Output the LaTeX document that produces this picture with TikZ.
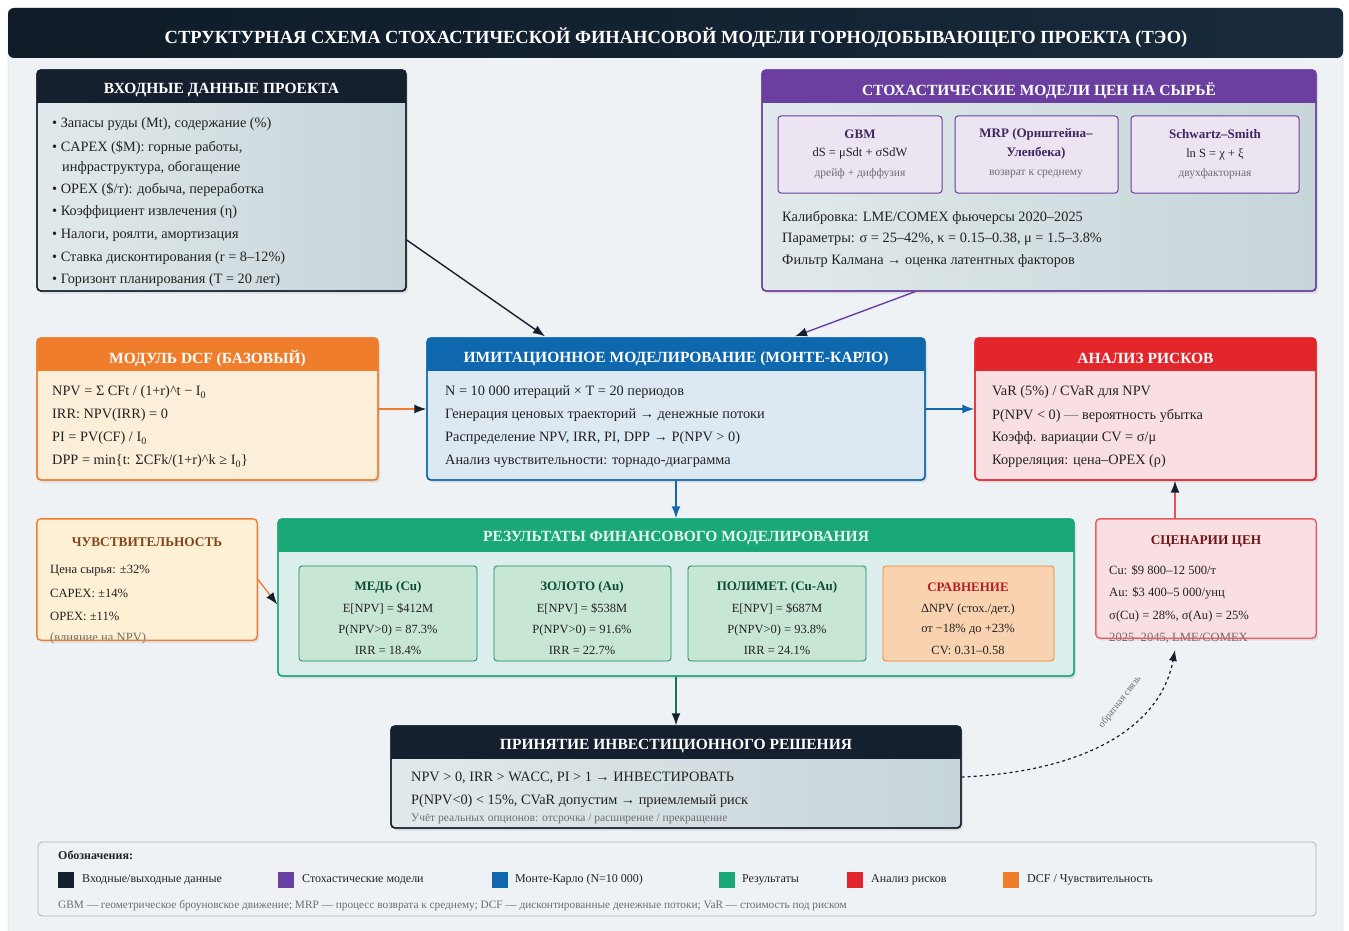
\documentclass[tikz,border=0pt]{standalone}
\usepackage{fontspec}
\setmainfont{Liberation Serif}
\usetikzlibrary{arrows.meta,shadows,fit,calc}
\definecolor{navy}{HTML}{14202E}
\definecolor{purp}{HTML}{6B3FA0}
\definecolor{orng}{HTML}{F07D2B}
\definecolor{blu}{HTML}{0F68AD}
\definecolor{rd}{HTML}{E3262B}
\definecolor{grn}{HTML}{1AA879}
\definecolor{bgc}{HTML}{EEF2F5}
\definecolor{txtc}{HTML}{222222}
\definecolor{gryt}{HTML}{6E6E6E}
\definecolor{bodyL}{HTML}{E1E9EC}
\definecolor{bodyR}{HTML}{C6D5D8}
\definecolor{dcfb}{HTML}{FCEFD9}
\definecolor{sensb}{HTML}{FDF0D5}
\definecolor{mcb}{HTML}{DCE9F3}
\definecolor{riskb}{HTML}{F9DFE1}
\definecolor{resb}{HTML}{DCEEEB}
\definecolor{gsub}{HTML}{C8E6D4}
\definecolor{osub}{HTML}{F9D3B0}
\definecolor{psub}{HTML}{ECE4F0}
\definecolor{titL}{HTML}{0F1B27}
\definecolor{titR}{HTML}{182A3C}
\newcommand{\panel}[8]{%
  \node[fit={(#2,#3) (#4,#5)}, inner sep=0pt, rounded corners=4pt, draw=#6, line width=1.4pt, #7,
        drop shadow={opacity=0.18,shadow xshift=2pt,shadow yshift=-2.5pt}] (#1) {};
  \begin{scope}
    \clip[rounded corners=4pt] (#2,#3) rectangle (#4,#5);
    \fill[#6] (#2,#3) rectangle (#4,#3+33);
  \end{scope}
  \draw[#6, line width=1.4pt, rounded corners=4pt] (#2,#3) rectangle (#4,#5);
  \node[headtxt] (#1-h) at ({(#2+#4)/2},#3+20.5) {#8};
}
\tikzset{
  headtxt/.style={text=white, font=\bfseries\fontsize{15.5}{17}\selectfont, inner sep=0pt},
  bt/.style={anchor=west, inner sep=0pt, yshift=-1.5pt, text=txtc, font=\fontsize{14.3}{16}\selectfont},
  st/.style={inner sep=0pt, yshift=-1pt, text=txtc, font=\fontsize{12.5}{14}\selectfont},
  sbt/.style={inner sep=0pt, yshift=-1pt, font=\bfseries\fontsize{13}{15}\selectfont},
  gt/.style={inner sep=0pt, yshift=-1pt, text=gryt, font=\fontsize{11.5}{13}\selectfont},
  smt/.style={anchor=west, inner sep=0pt, yshift=-1.5pt, text=txtc, font=\fontsize{12.6}{14}\selectfont},
  subp/.style={inner sep=0pt, rounded corners=3pt, draw=purp, line width=1pt, fill=psub},
  subg/.style={inner sep=0pt, rounded corners=3pt, draw=grn!80!black, line width=0.8pt, fill=gsub},
  grayshade/.style={left color=bodyL, right color=bodyR},
  legsq/.style={minimum size=16pt, inner sep=0pt},
  legt/.style={anchor=west, inner sep=0pt, text=txtc, font=\fontsize{12}{14}\selectfont},
}
\begin{document}
\begin{tikzpicture}[x=1pt,y=-1pt]
\useasboundingbox (0,0) rectangle (1349,931);
\fill[white] (0,0) rectangle (1349,931);
\draw[gray!40, fill=bgc, rounded corners=6pt] (8,8) rectangle (1343,950);
% title
\shade[left color=titL, right color=titR, rounded corners=6pt] (8,8) rectangle (1343,58);
\node[text=white, font=\bfseries\fontsize{18.5}{20}\selectfont, inner sep=0pt] (title) at (676,37.5)
  {СТРУКТУРНАЯ СХЕМА СТОХАСТИЧЕСКОЙ ФИНАНСОВОЙ МОДЕЛИ ГОРНОДОБЫВАЮЩЕГО ПРОЕКТА (ТЭО)};

% input data
\panel{inp}{37}{70}{406}{291}{navy}{grayshade}{ВХОДНЫЕ ДАННЫЕ ПРОЕКТА}
\node[bt] (i1) at (52,123) {• Запасы руды (Mt), содержание (\%)};
\node[bt] (i2) at (52,146) {• CAPEX (\$M): горные работы,};
\node[bt] (i3) at (62,166) {инфраструктура, обогащение};
\node[bt] (i4) at (52,188) {• OPEX (\$/т): добыча, переработка};
\node[bt] (i5) at (52,211) {• Коэффициент извлечения (η)};
\node[bt] (i6) at (52,234) {• Налоги, роялти, амортизация};
\node[bt] (i7) at (52,257) {• Ставка дисконтирования (r = 8–12\%)};
\node[bt] (i8) at (52,279) {• Горизонт планирования (T = 20 лет)};

% stochastic models
\panel{sto}{762}{70}{1316}{291}{purp}{grayshade}{СТОХАСТИЧЕСКИЕ МОДЕЛИ ЦЕН НА СЫРЬЁ}
\node[subp, fit={(778,116) (942,193)}] (s1) {};
\node[subp, fit={(955,116) (1118,193)}] (s2) {};
\node[subp, fit={(1131,116) (1299,193)}] (s3) {};
\node[sbt, text=purp!60!black] (s1a) at (860,133) {GBM};
\node[st] (s1b) at (860,153) {dS = μSdt + σSdW};
\node[gt] (s1c) at (860,173) {дрейф + диффузия};
\node[sbt, text=purp!60!black] (s2a) at (1036,133) {MRP (Орнштейна–};
\node[sbt, text=purp!60!black] (s2b) at (1036,152) {Уленбека)};
\node[gt] (s2c) at (1036,173) {возврат к среднему};
\node[sbt, text=purp!60!black] (s3a) at (1215,133) {Schwartz–Smith};
\node[st] (s3b) at (1215,153) {ln S = χ + ξ};
\node[gt] (s3c) at (1215,173) {двухфакторная};
\node[bt] (s4) at (782,216) {Калибровка: LME/COMEX фьючерсы 2020–2025};
\node[bt] (s5) at (782,238) {Параметры: σ = 25–42\%, κ = 0.15–0.38, μ = 1.5–3.8\%};
\node[bt] (s6) at (782,260) {Фильтр Калмана → оценка латентных факторов};

% DCF
\panel{dcf}{37}{338}{378}{480}{orng}{fill=dcfb}{МОДУЛЬ DCF (БАЗОВЫЙ)}
\node[bt] (d1) at (52,391) {NPV = Σ CFt / (1+r)\textasciicircum t − I\textsubscript{0}};
\node[bt] (d2) at (52,414) {IRR: NPV(IRR) = 0};
\node[bt] (d3) at (52,437) {PI = PV(CF) / I\textsubscript{0}};
\node[bt] (d4) at (52,460) {DPP = min\{t: ΣCFk/(1+r)\textasciicircum k ≥ I\textsubscript{0}\}};

% Monte Carlo
\panel{mc}{427}{338}{925}{480}{blu}{fill=mcb}{ИМИТАЦИОННОЕ МОДЕЛИРОВАНИЕ (МОНТЕ-КАРЛО)}
\node[bt] (m1) at (445,391) {N = 10 000 итераций × T = 20 периодов};
\node[bt] (m2) at (445,414) {Генерация ценовых траекторий → денежные потоки};
\node[bt] (m3) at (445,437) {Распределение NPV, IRR, PI, DPP → P(NPV > 0)};
\node[bt] (m4) at (445,460) {Анализ чувствительности: торнадо-диаграмма};

% Risk
\panel{risk}{975}{338}{1316}{480}{rd}{fill=riskb}{АНАЛИЗ РИСКОВ}
\node[bt] (r1) at (992,391) {VaR (5\%) / CVaR для NPV};
\node[bt] (r2) at (992,414) {P(NPV < 0) \textcolor{gryt}{—} вероятность убытка};
\node[bt] (r3) at (992,437) {Коэфф. вариации CV = σ/μ};
\node[bt] (r4) at (992,460) {Корреляция: цена–OPEX (ρ)};

% Results
\panel{res}{278}{519}{1074}{676}{grn}{fill=resb}{}
\node[headtxt, text=white!90!grn] (res-t) at (676,538.5) {РЕЗУЛЬТАТЫ ФИНАНСОВОГО МОДЕЛИРОВАНИЯ};
\node[subg, fit={(299,566) (477,661)}] (g1) {};
\node[subg, fit={(494,566) (671,661)}] (g2) {};
\node[subg, fit={(688,566) (866,661)}] (g3) {};
\node[inner sep=0pt, rounded corners=3pt, draw=orng, line width=0.8pt, fill=osub, fit={(883,566) (1054,661)}] (g4) {};
\node[sbt, text=grn!45!black] (g1a) at (388,586) {МЕДЬ (Cu)};
\node[st] (g1b) at (388,608) {E[NPV] = \$412M};
\node[st] (g1c) at (388,629) {P(NPV>0) = 87.3\%};
\node[st] (g1d) at (388,649) {IRR = 18.4\%};
\node[sbt, text=grn!45!black] (g2a) at (582,586) {ЗОЛОТО (Au)};
\node[st] (g2b) at (582,608) {E[NPV] = \$538M};
\node[st] (g2c) at (582,629) {P(NPV>0) = 91.6\%};
\node[st] (g2d) at (582,649) {IRR = 22.7\%};
\node[sbt, text=grn!45!black] (g3a) at (777,586) {ПОЛИМЕТ. (Cu-Au)};
\node[st] (g3b) at (777,608) {E[NPV] = \$687M};
\node[st] (g3c) at (777,629) {P(NPV>0) = 93.8\%};
\node[st] (g3d) at (777,649) {IRR = 24.1\%};
\node[sbt, text=rd!80!black] (g4a) at (968,586) {СРАВНЕНИЕ};
\node[st] (g4b) at (968,608) {ΔNPV (стох./дет.)};
\node[st] (g4c) at (968,629) {от −18\% до +23\%};
\node[st] (g4d) at (968,649) {CV: 0.31–0.58};

% Sensitivity
\node[fit={(37,519) (257,640)}, inner sep=0pt, rounded corners=4pt, fill=sensb,
      drop shadow={opacity=0.18,shadow xshift=2pt,shadow yshift=-2.5pt}] (sens) {};
\node[sbt, text=orng!55!black, font=\bfseries\fontsize{13.3}{15}\selectfont] (sens-t) at (147,541) {ЧУВСТВИТЕЛЬНОСТЬ};
\node[smt] (se1) at (50,569) {Цена сырья: ±32\%};
\node[smt] (se2) at (50,592) {CAPEX: ±14\%};
\node[smt] (se3) at (50,615) {OPEX: ±11\%};
\node[smt, text=gryt] (se4) at (50,637) {(влияние на NPV)};
\draw[orng, line width=1.4pt, rounded corners=4pt] (sens.north west) rectangle (sens.south east);

% Scenarios
\node[fit={(1096,519) (1316,638)}, inner sep=0pt, rounded corners=4pt, fill=riskb,
      drop shadow={opacity=0.18,shadow xshift=2pt,shadow yshift=-2.5pt}] (scen) {};
\node[sbt, text=rd!50!black, font=\bfseries\fontsize{13.3}{15}\selectfont] (scen-t) at (1206,541) {СЦЕНАРИИ ЦЕН};
\node[smt] (sc1) at (1109,569) {Cu: \$9 800–12 500/т};
\node[smt] (sc2) at (1109,592) {Au: \$3 400–5 000/унц};
\node[smt] (sc3) at (1109,615) {σ(Cu) = 28\%, σ(Au) = 25\%};
\node[smt, text=gryt] (sc4) at (1109,637) {2025–2045, LME/COMEX};
\draw[rd!75!white, line width=1.4pt, rounded corners=4pt] (scen.north west) rectangle (scen.south east);

% Decision
\panel{dec}{391}{726}{961}{828}{navy}{grayshade}{ПРИНЯТИЕ ИНВЕСТИЦИОННОГО РЕШЕНИЯ}
\node[bt] (dc1) at (411,776) {NPV > 0, IRR > WACC, PI > 1 → ИНВЕСТИРОВАТЬ};
\node[bt] (dc2) at (411,800) {P(NPV<0) < 15\%, CVaR допустим → приемлемый риск};
\node[bt, font=\fontsize{11.5}{13}\selectfont, text=gryt] (dc3) at (411,817) {Учёт реальных опционов: отсрочка / расширение / прекращение};

% connectors
\draw[navy, line width=1.4pt, -{Latex[length=12pt,width=9pt]}] ([yshift=-59.5pt]inp.east) -- ([xshift=-131pt,yshift=1pt]mc.north);
\draw[purp, line width=1.4pt, -{Latex[length=12pt,width=9pt,color=navy]}] ([xshift=-124pt]sto.south) -- ([xshift=119pt,yshift=1pt]mc.north);
\draw[orng, line width=1.4pt, -{Latex[length=12pt,width=9pt,color=navy]}] (dcf.east) -- (mc.west);
\draw[blu, line width=1.4pt, -{Latex[length=12pt,width=9pt]}] (mc.east) -- (risk.west);
\draw[blu, line width=1.4pt, -{Latex[length=12pt,width=9pt]}] (mc.south) -- (res.north);
\draw[orng, line width=1.4pt, -{Latex[length=12pt,width=9pt,color=navy]}] ([yshift=1pt]sens.east) -- ([yshift=-7pt]res.west);
\draw[rd!80!white, line width=1.4pt, -{Latex[length=12pt,width=9pt,color=navy]}] ([xshift=-31pt]scen.north) -- ([xshift=-31pt]scen.north |- risk.south);
\draw[grn!70!black, line width=1.4pt, -{Latex[length=12pt,width=9pt,color=navy]}] (res.south) -- (dec.north);
\coordinate (fb) at (1175,650);
\draw[navy, line width=1.2pt, dashed, -{Latex[length=11pt,width=8pt]}] (dec.east) .. controls (1080,772) and (1160,730) .. (fb);
\node[inner sep=0pt, text=gryt, font=\fontsize{10}{12}\selectfont, rotate=52] (fbl) at (1120,702) {обратная связь};

% legend
\draw[gray!60, fill=bgc, rounded corners=4pt, line width=0.8pt] (38,842) rectangle (1316,916);
\node[anchor=west, inner sep=0pt, text=txtc, font=\bfseries\fontsize{12}{14}\selectfont] (lg) at (58,855) {Обозначения:};
\node[legsq, fill=navy] (lq1) at (66,880) {};
\node[legt] (lt1) at (82,880) {Входные/выходные данные};
\node[legsq, fill=purp] (lq2) at (286,880) {};
\node[legt] (lt2) at (302,880) {Стохастические модели};
\node[legsq, fill=blu] (lq3) at (500,880) {};
\node[legt] (lt3) at (515,880) {Монте-Карло (N=10 000)};
\node[legsq, fill=grn] (lq4) at (727,880) {};
\node[legt] (lt4) at (742,880) {Результаты};
\node[legsq, fill=rd] (lq5) at (855,880) {};
\node[legt] (lt5) at (871,880) {Анализ рисков};
\node[legsq, fill=orng] (lq6) at (1011,880) {};
\node[legt] (lt6) at (1027,880) {DCF / Чувствительность};
\node[anchor=west, inner sep=0pt, text=gryt, font=\fontsize{11.3}{13}\selectfont] (lfn) at (58,906)
  {GBM — геометрическое броуновское движение; MRP — процесс возврата к среднему; DCF — дисконтированные денежные потоки; VaR — стоимость под риском};
\end{tikzpicture}
\end{document}
